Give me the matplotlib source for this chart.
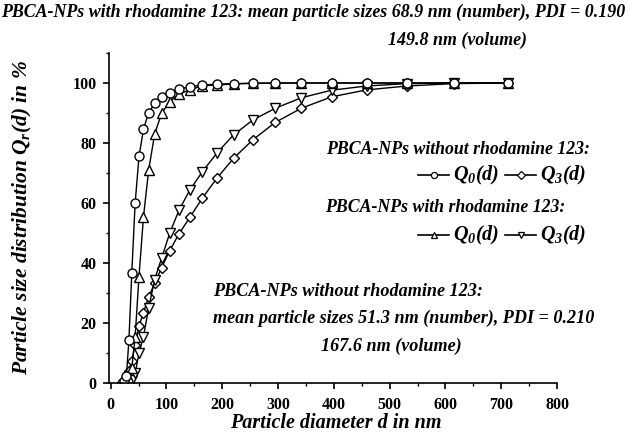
import matplotlib.pyplot as plt
from matplotlib.lines import Line2D
from matplotlib.ticker import MultipleLocator

plt.rcParams['font.family'] = 'Liberation Serif'
plt.rcParams['mathtext.fontset'] = 'custom'
plt.rcParams['mathtext.it'] = 'Liberation Serif:bold:italic'
plt.rcParams['mathtext.rm'] = 'Liberation Serif:bold:italic'
plt.rcParams['mathtext.bf'] = 'Liberation Serif:bold:italic'

# particle size classes (nm) and cumulative distributions (%)
d_q0_without = [21.04, 24.36, 28.21, 32.67, 37.84, 43.82, 50.75, 58.77, 68.06, 78.82,
                91.28, 105.7, 122.4, 141.8, 164.2, 190.1, 220.2, 255.0, 295.3, 342.0,
                396.1, 458.7, 531.2, 615.1, 712.4]
q0_without = [0, 0.8, 2.5, 14.3, 36.8, 60.0, 75.5, 84.6, 90.1, 93.2,
              95.3, 96.8, 97.9, 98.8, 99.3, 99.6, 99.8, 99.9, 100, 100,
              100, 100, 100, 100, 100]

d_q3_without = [21.04, 24.36, 28.21, 32.67, 37.84, 43.82, 50.75, 58.77, 68.06, 78.82,
                91.28, 105.7, 122.4, 141.8, 164.2, 190.1, 220.2, 255.0, 295.3, 342.0,
                396.1, 458.7, 531.2, 615.1, 712.4]
q3_without = [0, 0.5, 1.5, 4.0, 7.5, 12.7, 19.0, 23.5, 28.7, 33.2,
              38.4, 44.1, 49.7, 55.2, 61.6, 68.2, 74.9, 81.1, 86.9, 91.6,
              95.4, 97.7, 99.0, 99.8, 100]

d_q0_with = [24.36, 28.21, 32.67, 37.84, 43.82, 50.75, 58.77, 68.06, 78.82, 91.28,
             105.7, 122.4, 141.8, 164.2, 190.1, 220.2, 255.0, 295.3, 342.0, 396.1,
             458.7, 531.2, 615.1, 712.4]
q0_with = [0, 0.3, 1.5, 5.0, 15.4, 35.5, 55.4, 71.0, 83.0, 89.9,
           93.8, 96.3, 97.7, 99.1, 99.3, 99.7, 99.9, 100, 100, 100,
           100, 100, 100, 100]

d_q3_with = [28.21, 32.67, 37.84, 43.82, 50.75, 58.77, 68.06, 78.82, 91.28, 105.7,
             122.4, 141.8, 164.2, 190.1, 220.2, 255.0, 295.3, 342.0, 396.1, 458.7,
             531.2, 615.1, 712.4]
q3_with = [0, 0.3, 1.0, 3.2, 9.9, 15.5, 25.0, 34.5, 41.6, 49.9,
           57.6, 64.3, 70.4, 76.6, 82.7, 87.7, 91.6, 95.1, 97.6, 99.0,
           99.8, 100, 100]

x_ticks = [0, 100, 200, 300, 400, 500, 600, 700, 800]
y_ticks = [0, 20, 40, 60, 80, 100]

W, H = 630, 440
fig = plt.figure(figsize=(W / 100, H / 100), dpi=100)
ax = fig.add_axes([109.3 / W, 1 - 383 / H, (557 - 109.3) / W, 330 / H])

mk = dict(color='black', lw=1.0, mfc='white', mec='black', mew=1.0)
ax.plot(d_q3_without, q3_without, marker='D', ms=5.4, **mk)
ax.plot(d_q3_with, q3_with, marker='v', ms=7.2, **mk)
ax.plot(d_q0_with, q0_with, marker='^', ms=7.2, **mk)
ax.plot(d_q0_without, q0_without, marker='o', ms=6.5, **mk)

ax.set_xlim(-2.5, 800)
ax.set_ylim(0, 110)
ax.set_xticks(x_ticks)
ax.set_yticks(y_ticks)
ax.xaxis.set_minor_locator(MultipleLocator(50))
ax.yaxis.set_minor_locator(MultipleLocator(10))
for s in ['top', 'right']:
    ax.spines[s].set_visible(False)
for s in ['left', 'bottom']:
    ax.spines[s].set_linewidth(1.2)
ax.tick_params(which='major', direction='out', length=4, width=1.2)
ax.tick_params(which='minor', direction='out', length=2.5, width=1.0)
ax.tick_params(axis='x', pad=6)
ax.tick_params(axis='y', pad=5)
for lab in ax.get_xticklabels() + ax.get_yticklabels():
    lab.set_fontweight('bold')
    lab.set_fontsize(11.5)

lbl = dict(fontweight='bold', fontstyle='italic')
ax.set_xlabel('Particle diameter d in nm', fontsize=14.5, **lbl)
ax.set_ylabel('Particle size distribution $Q_r(d)$ in %', fontsize=15.5, **lbl)
ax.xaxis.set_label_coords(336 / W, 1 - 423 / H, transform=fig.transFigure)
ax.yaxis.set_label_coords(22 / W, 1 - 218 / H, transform=fig.transFigure)
ax.xaxis.label.set_va('center')
ax.yaxis.label.set_va('center')


def ftext(x, y, s, ha='left', size=12.9):
    fig.text(x / W, 1 - y / H, s, ha=ha, va='center', fontsize=size,
             fontweight='bold', fontstyle='italic')


ftext(313, 12, 'PBCA-NPs with rhodamine 123: mean particle sizes 68.9 nm (number), PDI = 0.190', 'center', 12.9)
ftext(457, 40, '149.8 nm (volume)', 'center', 12.9)

ftext(590, 149, 'PBCA-NPs without rhodamine 123:', 'right', 12.8)
ftext(565, 208, 'PBCA-NPs with rhodamine 123:', 'right', 12.8)

ftext(213, 291, 'PBCA-NPs without rhodamine 123:', size=13.1)
ftext(213, 318, 'mean particle sizes 51.3 nm (number), PDI = 0.210', size=13.1)
ftext(391, 346, '167.6 nm (volume)', 'center', 13.1)


def key(x0, y, marker, label):
    fig.add_artist(Line2D([x0 / W, (x0 + 31) / W], [1 - y / H, 1 - y / H],
                          transform=fig.transFigure, color='black', lw=1.2))
    fig.add_artist(Line2D([(x0 + 15.5) / W], [1 - y / H], transform=fig.transFigure,
                          marker=marker, ms=4.4, mfc='white', mec='black', mew=0.9,
                          linestyle='none'))
    ftext(x0 + 35, y, label, size=14.5)


key(418, 175, 'o', '$Q_0(d)$')
key(505, 175, 'D', '$Q_3(d)$')
key(418, 235, '^', '$Q_0(d)$')
key(505, 235, 'v', '$Q_3(d)$')

fig.savefig('out.png', dpi=100)
